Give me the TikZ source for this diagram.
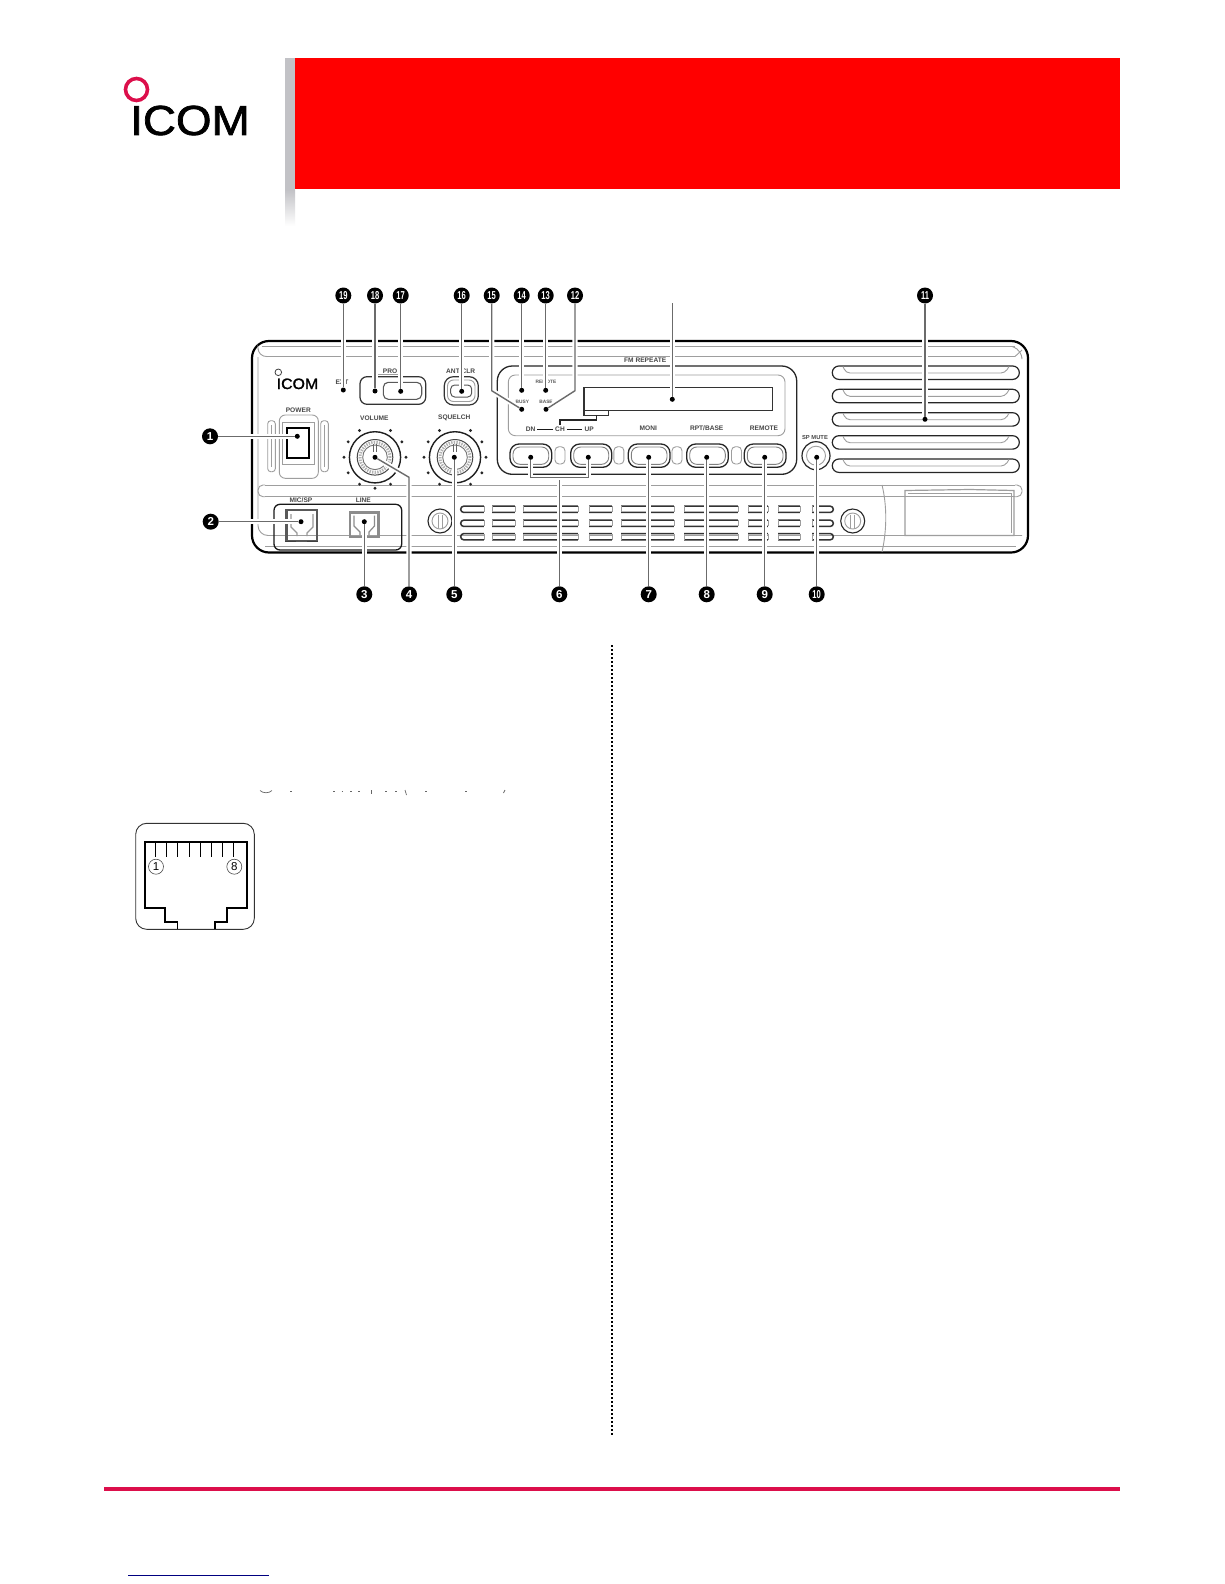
\documentclass[tikz,border=0pt]{standalone}
\usepackage{fontspec}
\setmainfont{Liberation Sans}
\newfontfamily\logofont[FakeBold=1.6]{Liberation Sans}
\begin{document}
\definecolor{crim}{HTML}{DC0F4B}
\definecolor{strip}{HTML}{C2C2C6}
\tikzset{
 numb/.style={circle,fill=black,text=white,inner sep=0pt,minimum size=16pt,font=\fontsize{11.5}{11.5}\selectfont\bfseries},
 dotn/.style={circle,fill=black,inner sep=0pt,minimum size=5pt},
 leader/.style={draw=black!58,line width=1.4pt,preaction={draw=white,line width=5.4pt}},
 lab/.style={inner sep=0pt,text=black!72,font=\fontsize{6.6}{7}\selectfont\bfseries},
 tinylab/.style={inner sep=0pt,text=black!65,font=\fontsize{4.8}{5}\selectfont\bfseries},
 pline/.style={draw=black!90,line width=1.3pt},
 gline/.style={draw=black!38,line width=.9pt},
 btnout/.style={draw=black!85,line width=1.3pt,rounded corners=9pt},
 btnin/.style={draw=black!50,line width=.9pt,rounded corners=7pt},
 pin/.style={draw=black,line width=1pt},
 thick jack/.style={draw=black,line width=1.9pt},
 pinnum/.style={circle,draw=black!70,line width=.6pt,inner sep=0pt,minimum size=15pt,font=\fontsize{11.5}{12}\selectfont},
 frag/.style={draw=black!60,line width=.7pt}
}
\begin{tikzpicture}[x=1pt,y=-1pt]
\useasboundingbox (0,0) rectangle (1224,1584);
\fill[white] (0,0) rectangle (1224,1584);

% header
\fill[strip] (285,58) rectangle (295,190);
\shade[top color=strip,bottom color=white] (285,190) rectangle (295,226);
\fill[red] (295,58) rectangle (1120,188.5);
\draw[crim,line width=3.6pt] (136.5,89.5) circle (11pt);
\node[inner sep=0pt,anchor=base west] (logo) at (130,135) {\scalebox{1.09}[1]{\logofont\fontsize{42}{42}\selectfont ICOM}};

% panel
\draw[draw=black,line width=2.2pt,rounded corners=17pt] (252,341) rectangle (1028,552.5);
\draw[gline,rounded corners=10pt] (258,357) -- (258,535.5) -- (1022,535.5);
\draw[gline] (262,346.5) -- (1015,346.5);
\draw[gline] (268,356.5) -- (1015,356.5);
\draw[gline,rounded corners=9pt] (258,350) -- (258,357) -- (268,356.5);
\draw[gline,rounded corners=9pt] (1012,346.5) -- (1022,350) -- (1022,357);
\draw[gline] (1015,356.5) -- (1022,350);
\draw[gline,rounded corners=5pt] (1015,485) -- (1022,485) -- (1022,496.7) -- (1015,496.7);
\draw[gline] (265,546) -- (1016,546);
\draw[gline,rounded corners=5pt] (265,485) -- (258,485) -- (258,496.7) -- (265,496.7);
\draw[gline] (265,485) -- (1015,485);
\draw[gline] (265,496.7) -- (1015,496.7);
\draw[gline] (882,485) .. controls (887,505) and (887,530) .. (882,552);
\draw[gline,line width=1.2pt] (905,490.5) -- (970,489.5) -- (1014,490.5) -- (1014,535.5) -- (905,535.5) -- cycle;
\draw[gline] (908,493) -- (1011,493) -- (1011,533);

% speaker slots
\foreach \t in {366,389.3,412.7,435.7,459}{
  \draw[draw=black!85,line width=1.2pt,rounded corners=6.6pt] (832.3,\t) rectangle (1019.3,\t+13.4);
  \draw[gline,rounded corners=4pt] (843,\t+.5) -- (846,\t+7) -- (1005,\t+7) -- (1009,\t+.5);
}

% small logo
\draw[black!75,line width=.8pt] (278.3,372.3) circle (3.3pt);
\node[inner sep=0pt,anchor=base west] (smalllogo) at (276.5,389) {\scalebox{1.06}[1]{\logofont\fontsize{15}{15}\selectfont ICOM}};

% labels
\node[lab] (lpower) at (298.3,410.7) {POWER};
\node[lab] (lvol) at (374.3,418.7) {VOLUME};
\node[lab] (lsq) at (454.3,417.7) {SQUELCH};
\node[lab] (lmic) at (301,500) {MIC/SP};
\node[lab] (lline) at (363.3,500) {LINE};
\node[lab] (lext) at (342,382) {EXT};
\node[lab] (lpro) at (390,371.7) {PRO};
\node[lab] (lant) at (460.7,371) {ANT CLR};
\node[lab,anchor=west] (lfm) at (624,360.7) {FM REPEATE};
\node[lab] (ldn) at (530.7,429.3) {DN};
\node[lab] (lch) at (560,429.3) {CH};
\node[lab] (lup) at (589.3,429.3) {UP};
\node[lab] (lmoni) at (648.3,428.3) {MONI};
\node[lab] (lrpt) at (706.7,428.3) {RPT/BASE};
\node[lab] (lrem) at (764,428.3) {REMOTE};
\node[lab,font=\fontsize{5.8}{6}\selectfont\bfseries] (lspm) at (815,437.7) {SP MUTE};
\node[tinylab] (lremote) at (546,382.3) {REMOTE};
\node[tinylab] (lbusy) at (522.3,402.3) {BUSY};
\node[tinylab] (lbase) at (546,401.7) {BASE};
\draw[pline,line width=.8pt] (lch.west)++(-2,0) -- (537,429.3);
\draw[pline,line width=.8pt] (lch.east)++(2,0) -- (581.7,429.3);

% power switch
\draw[gline,rounded corners=6pt] (279.3,415) rectangle (318.3,478.3);
\draw[gline] (282.7,422.7) rectangle (314,464);
\draw[draw=black,line width=1.8pt] (286.7,428.3) rectangle (309.3,458.3);
\foreach \a in {267.7,320.7}{
  \draw[gline,rounded corners=3pt] (\a,420.7) rectangle (\a+7.6,471.7);
  \draw[gline] (\a+3.8,425) -- (\a+3.8,467);
}

% PRO box and ANT box
\draw[draw=black!80,line width=1.2pt,rounded corners=7pt] (360,376.7) rectangle (425.7,404.3);
\draw[draw=black!65,line width=1.1pt,rounded corners=5pt] (383.3,382.3) rectangle (421.7,399.3);
\draw[gline] (378,374.5) -- (402,374.5);
\draw[draw=black!80,line width=1.2pt,rounded corners=9pt] (444.3,376.7) rectangle (478.3,405);
\draw[gline,rounded corners=6pt] (447.5,380) rectangle (475,401.5);
\draw[draw=black!65,line width=1pt,rounded corners=4pt] (450.7,385) rectangle (471.7,397);

% knobs
\foreach \c/\y in {375/457.3,455/457.3}{
  \draw[draw=black!88,line width=1.4pt] (\c,\y) circle (25.6pt);
  \draw[draw=black!30,line width=3pt,dash pattern=on 1.4pt off 1.2pt] (\c,\y) circle (15pt);
  \draw[draw=black!72,line width=1pt] (\c,\y) circle (17.8pt);
  \draw[draw=black!55,line width=.9pt] (\c,\y) circle (12.3pt);
  \draw[draw=black!60,line width=.8pt] (\c-1.2,\y-13) -- (\c-1.2,\y-5);
  \draw[draw=black!60,line width=.8pt] (\c+1.2,\y-13) -- (\c+1.2,\y-5);
  \foreach \ang in {-60,-30,0,30,60,90,120,150,180,210,240}{
    \fill[black!85] (\c,\y) ++(\ang:31pt and -31pt) circle (1.6pt);
  }
}

% display group
\draw[draw=black!85,line width=1.3pt,rounded corners=15pt] (497.3,366) rectangle (796.7,474.3);
\draw[gline,rounded corners=7pt] (508.3,375) rectangle (785,435.7);
\draw[draw=black!80,line width=1.4pt] (584,387.3) rectangle (772.7,410.7);
\draw[draw=black!80,line width=1.1pt] (584,410.7) rectangle (608.3,415.3);
\draw[draw=black!85,line width=1.1pt] (596.7,415.3) -- (596.7,420) -- (560,420) -- (560,424.8);

% buttons
\foreach \a/\b in {510/551.7,570.7/611.7,628.3/670,686.7/728.3,744.3/786}{
  \draw[btnout] (\a,444) rectangle (\b,467.3);
  \draw[btnin] (\a+3,447) rectangle (\b-3,464.3);
}
\foreach \m in {560,618.9,677,736.5}{
  \draw[gline,rounded corners=4pt] (\m-5,446.7) rectangle (\m+5,464);
}

% SP mute
\draw[draw=black!85,line width=1.2pt] (816,455.7) circle (14pt);
\draw[gline] (816,455.7) circle (9.5pt);

% connector box
\draw[draw=black!90,line width=1.3pt,rounded corners=6pt] (274,504.3) rectangle (401.7,550);
% MIC jack
\draw[draw=black!65,line width=2.6pt] (286.5,510) rectangle (317,541);
\draw[draw=black!40,line width=1.2pt] (291,514) -- (291,527) -- (297,533) -- (297,536) (313,514) -- (313,527) -- (307,533) -- (307,536);
\draw[draw=black!75,line width=1.4pt] (285,541.5) -- (296,541.5) (307,541.5) -- (318,541.5);
% LINE jack
\draw[draw=black!45,line width=2.6pt] (350,512.5) rectangle (378.5,537);
\draw[draw=black!45,line width=1.2pt] (354,515.5) -- (354,526) -- (360,532) -- (360,535) (374.5,515.5) -- (374.5,526) -- (369,532) -- (369,535);

% screws
\foreach \s in {440,852.7}{
  \draw[draw=black!85,line width=1.1pt] (\s,521) circle (12pt);
  \draw[gline] (\s,521) circle (8pt);
  \draw[gline] (\s-2,514.5) -- (\s-2,527.5) (\s+2,514.5) -- (\s+2,527.5);
}

% vent rows
\foreach \r in {509.3,523.3,536.7}{
  \draw[draw=black!80,line width=1.5pt,rounded corners=3pt] (460.7,\r-3.1) rectangle (833.3,\r+3.1);
  \foreach \a/\b in {484/492,515/523,578/589,612/621,674/684,738/748,768/778,800/812}{
    \fill[white] (\a,\r-4.3) rectangle (\b,\r+4.3);
    \draw[gline] (\a,\r-3.1) -- (\a,\r+3.1) (\b,\r-3.1) -- (\b,\r+3.1);
  }
}

% callout numbers
\foreach \nm/\px/\py/\tx in {
 n1/210/436.3/1,n2/210.7/521.7/2,n3/364.3/594.3/3,n4/409/594.3/4,n5/454.3/594.3/5,
 n6/559.3/594.3/6,n7/648.7/594.3/7,n8/706.7/594.3/8,n9/764.7/594.3/9}{
  \node[numb] (\nm) at (\px,\py) {\tx};
}
\foreach \nm/\px/\py/\tx in {
 n10/816.7/594.3/10,n11/925/295.5/11,n12/575/295.5/12,n13/545.7/295.5/13,n14/521.7/295.5/14,
 n15/491.7/295.5/15,n16/461.7/295.5/16,n17/400.7/295.5/17,n18/375/295.5/18,n19/343.3/295.5/19}{
  \node[numb] (\nm) at (\px,\py) {\scalebox{.66}[1]{\tx}};
}

% target dots
\foreach \nm/\px/\py in {
 d1/297.3/436.3,d2/301/521.7,d3/364.3/521.7,d4/375/457.3,d5/454.3/457.3,
 d6a/530.7/457.3,d6b/588.3/457.3,d7/648.7/457.3,d8/706.7/457.3,d9/764.7/457.3,d10/816.7/457.3,
 d11/925/419.3,d12/546/409.3,d13/545.7/390.3,d14/521.7/390.3,d15/521.7/409.3,
 d16/461.7/391.3,d17/400.7/391.3,d18/375/391,d19/343.3/390,dtop/672.3/399.3}{
  \node[dotn] (\nm) at (\px,\py) {};
}
\coordinate (c4) at (409,477.3);
\coordinate (c6a) at (530.7,477.3);
\coordinate (c6b) at (588.3,477.3);
\coordinate (c6m) at (559.3,477.3);
\coordinate (c12) at (575,390.7);
\coordinate (c15) at (491.7,390.7);
\coordinate (ctop) at (672.3,303.3);

% leaders
\foreach \p/\q in {n1/d1,n2/d2,n3/d3,n5/d5,n7/d7,n8/d8,n9/d9,n10/d10,n11/d11,n13/d13,n14/d14,n16/d16,n17/d17,n18/d18,n19/d19,ctop/dtop}{
  \draw[leader] (\p) -- (\q);
}
\draw[leader] (n4) -- (c4) -- (d4);
\draw[leader] (n6) -- (c6m);
\draw[leader] (d6a) -- (c6a) -- (c6b) -- (d6b);
\draw[leader] (n12) -- (c12) -- (d12);
\draw[leader] (n15) -- (c15) -- (d15);

% RJ-45 drawing
\draw[draw=black!80,line width=.9pt,rounded corners=11pt] (135.7,823.3) rectangle (254.3,929.3);
\draw[thick jack] (177.5,929.3) -- (177.5,921.7) -- (165,921.7) -- (165,908.3) -- (145.3,908.3) -- (145.3,842.3) -- (246.7,842.3) -- (246.7,908.3) -- (226.7,908.3) -- (226.7,921.7) -- (215,921.7) -- (215,929.3);
\foreach \px in {155.7,166.7,177.7,189,200,211.3,222.7,233.7}{
  \draw[pin] (\px,842.3) -- (\px,856.7);
}
\node[pinnum] (pin1) at (156,866.7) {1};
\node[pinnum] (pin8) at (234.3,866.7) {8};

% text remnants
\draw[frag] (260,790.5) .. controls (263,793.5) and (269,793.5) .. (272,790.5);
\foreach \px in {290,333,341.7,350,358,385,395,425,465}{
  \draw[frag] (\px,791) -- (\px+1.5,791);
}
\draw[frag] (371.7,790) -- (371.7,793.5);
\draw[frag] (405,790) -- (406.5,795);
\draw[frag] (503.5,793) -- (505,790);

% divider and footer
\draw[draw=black,line width=2pt,dash pattern=on 2pt off 2pt] (612,645) -- (612,1436);
\draw[crim,line width=4.6pt] (104,1489) -- (1120,1489);
\draw[draw=blue!50!black,line width=1pt] (128,1575) -- (269,1575);
\end{tikzpicture}
\end{document}
